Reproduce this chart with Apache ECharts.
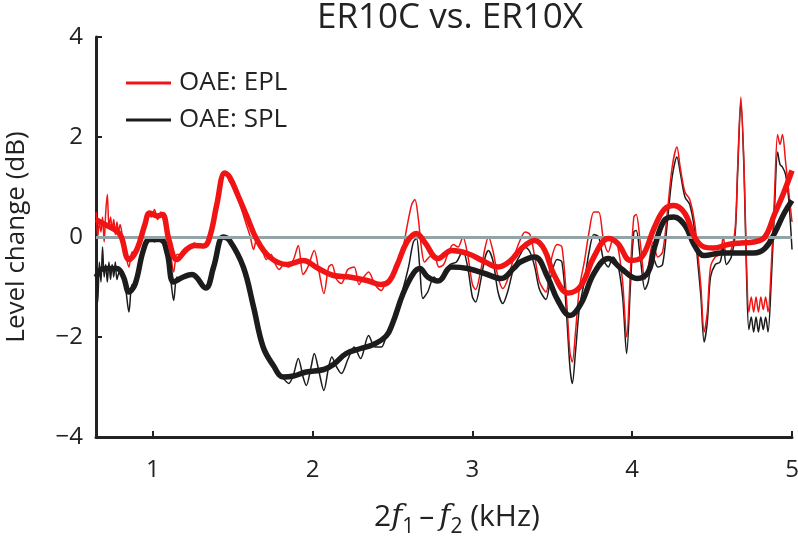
<!DOCTYPE html>
<html>
<head>
<meta charset="utf-8">
<script src="https://cdn.jsdelivr.net/npm/echarts@6/dist/echarts.min.js"></script>
<style>
html,body{margin:0;padding:0;background:#fff;}
#c{width:798px;height:539px;}
</style>
</head>
<body>
<div id="c"></div>
<script>
const titleText = 'ER10C vs. ER10X';
const legendNames = ['OAE: EPL', 'OAE: SPL'];
const xTicks = [1, 2, 3, 4, 5];
const yTicks = [-4, -2, 0, 2, 4];

// Smoothed EPL (thick red)
const eplSmoothF = [0.645,0.70,0.76,0.80,0.85,0.90,0.95,0.98,1.03,1.06,1.10,1.15,1.21,1.26,1.32,1.36,1.40,1.45,1.48,1.53,1.59,1.65,1.73,1.84,1.94,2.03,2.13,2.23,2.34,2.43,2.48,2.53,2.59,2.65,2.70,2.785,2.87,2.97,3.08,3.16,3.24,3.30,3.39,3.45,3.51,3.60,3.68,3.76,3.85,3.91,3.99,4.06,4.14,4.20,4.26,4.33,4.39,4.45,4.51,4.60,4.68,4.76,4.83,4.89,4.95,5.0];
const eplSmooth = [0.35,0.25,0.15,0.02,-0.45,-0.25,0.25,0.48,0.42,0.45,-0.05,-0.45,-0.25,-0.17,-0.18,0.05,0.65,1.28,1.2,0.85,0.4,-0.05,-0.4,-0.55,-0.47,-0.62,-0.77,-0.8,-0.87,-0.95,-0.88,-0.55,-0.1,0.07,-0.1,-0.43,-0.27,-0.33,-0.5,-0.6,-0.47,-0.25,-0.07,-0.25,-0.75,-1.12,-0.97,-0.4,-0.03,-0.13,-0.47,-0.4,0.2,0.55,0.63,0.47,0.0,-0.2,-0.22,-0.15,-0.12,-0.1,0.0,0.45,0.9,1.33];

// Smoothed SPL (thick black)
const splSmoothF = [0.645,0.69,0.775,0.816,0.85,0.89,0.94,0.98,1.05,1.09,1.13,1.19,1.245,1.33,1.38,1.44,1.48,1.566,1.63,1.69,1.754,1.816,1.88,1.96,2.07,2.13,2.21,2.30,2.38,2.46,2.50,2.566,2.63,2.67,2.72,2.785,2.87,2.97,3.077,3.18,3.26,3.30,3.39,3.47,3.535,3.61,3.68,3.76,3.85,3.93,4.03,4.10,4.14,4.20,4.26,4.33,4.39,4.45,4.56,4.66,4.76,4.83,4.89,4.95,5.0];
const splSmooth = [-0.8,-0.63,-0.63,-0.8,-1.1,-0.93,-0.27,-0.05,-0.05,-0.33,-0.9,-0.8,-0.75,-1.02,-0.6,0.0,-0.07,-0.6,-1.4,-2.2,-2.57,-2.8,-2.78,-2.7,-2.65,-2.55,-2.33,-2.23,-2.15,-1.98,-1.73,-1.13,-0.73,-0.63,-0.8,-0.88,-0.6,-0.63,-0.73,-0.83,-0.62,-0.5,-0.4,-0.8,-1.27,-1.57,-1.33,-0.73,-0.43,-0.63,-0.83,-0.7,-0.2,0.33,0.4,0.23,-0.17,-0.37,-0.32,-0.32,-0.32,-0.23,0.07,0.47,0.73];

// Raw EPL (thin red)
const eplRawF = [0.645,0.655,0.665,0.675,0.685,0.695,0.705,0.715,0.725,0.735,0.745,0.755,0.765,0.775,0.785,0.795,0.81,0.83,0.85,0.87,0.89,0.91,0.93,0.95,0.97,0.99,1.01,1.03,1.05,1.07,1.09,1.11,1.13,1.15,1.17,1.20,1.23,1.26,1.29,1.32,1.35,1.38,1.41,1.44,1.46,1.48,1.50,1.52,1.55,1.58,1.61,1.63,1.65,1.68,1.71,1.74,1.76,1.79,1.82,1.85,1.88,1.91,1.94,1.97,2.01,2.04,2.07,2.10,2.12,2.15,2.18,2.22,2.26,2.29,2.32,2.35,2.39,2.43,2.46,2.49,2.52,2.56,2.59,2.62,2.64,2.66,2.68,2.70,2.73,2.76,2.79,2.82,2.85,2.88,2.91,2.94,2.97,3.00,3.02,3.05,3.08,3.10,3.13,3.16,3.19,3.22,3.26,3.30,3.33,3.36,3.39,3.42,3.46,3.49,3.53,3.56,3.59,3.61,3.625,3.645,3.67,3.70,3.73,3.76,3.79,3.82,3.85,3.88,3.91,3.94,3.965,3.99,4.01,4.025,4.05,4.08,4.10,4.13,4.16,4.19,4.22,4.25,4.28,4.30,4.33,4.36,4.39,4.41,4.43,4.45,4.47,4.49,4.52,4.55,4.57,4.59,4.62,4.645,4.66,4.68,4.70,4.715,4.73,4.745,4.76,4.775,4.79,4.805,4.82,4.835,4.85,4.87,4.89,4.91,4.925,4.94,4.96,4.98,5.0];
const eplRaw = [0.5,0.0,0.3,0.1,0.4,-0.1,0.5,0.85,0.2,0.4,0.15,0.35,0.05,0.3,0.1,0.25,0.0,-0.35,-0.6,-0.3,-0.35,-0.1,0.1,0.3,0.5,0.4,0.55,0.35,0.5,0.3,0.05,-0.3,-0.7,-0.35,-0.35,-0.25,-0.2,-0.12,-0.2,-0.15,0.0,0.4,0.85,1.3,1.3,1.1,1.05,0.85,0.6,0.3,0.0,-0.25,-0.05,-0.2,-0.45,-0.35,-0.5,-0.65,-0.55,-0.6,-0.45,-0.17,-0.75,-0.6,-0.27,-0.7,-1.13,-0.6,-0.55,-0.85,-0.93,-0.65,-0.6,-0.95,-0.8,-0.7,-0.95,-1.07,-0.9,-0.85,-0.6,-0.3,0.2,0.65,0.75,0.4,-0.2,-0.5,-0.4,-0.35,-0.6,-0.55,-0.3,-0.15,-0.2,0.0,-0.35,-0.95,-1.05,-0.7,-0.2,0.0,-0.3,-0.8,-1.03,-0.85,-0.4,-0.05,0.1,0.05,-0.4,-0.9,-1.1,-0.5,-0.15,-0.2,-1.3,-2.3,-2.5,-1.9,-1.0,-0.5,0.1,0.5,0.5,-0.05,-0.3,-0.05,-0.2,-0.9,-2.0,-0.6,0.4,0.45,-0.1,-0.85,-0.6,-0.1,-0.4,-0.3,0.5,1.4,1.8,1.4,0.9,0.75,0.3,-0.3,-1.0,-1.9,-1.5,-0.6,-0.4,-0.35,0.0,-0.35,-0.25,0.2,1.4,2.8,1.4,-0.5,-1.5,-1.2,-1.5,-1.2,-1.5,-1.2,-1.45,-1.2,-1.5,-0.6,0.8,2.05,1.85,2.05,1.5,0.9,0.3];

// Raw SPL (thin black)
const splRawF = [0.645,0.655,0.665,0.675,0.685,0.695,0.705,0.715,0.725,0.735,0.745,0.755,0.765,0.775,0.79,0.81,0.83,0.85,0.87,0.89,0.91,0.93,0.95,0.97,0.99,1.01,1.03,1.05,1.07,1.09,1.11,1.13,1.15,1.17,1.20,1.23,1.26,1.30,1.33,1.36,1.39,1.42,1.44,1.47,1.50,1.53,1.56,1.59,1.62,1.64,1.66,1.69,1.72,1.75,1.78,1.81,1.85,1.88,1.91,1.94,1.96,1.99,2.01,2.04,2.07,2.10,2.12,2.15,2.18,2.22,2.26,2.30,2.35,2.39,2.43,2.46,2.49,2.52,2.56,2.60,2.63,2.65,2.67,2.69,2.72,2.76,2.79,2.82,2.86,2.90,2.94,2.97,3.00,3.02,3.05,3.08,3.10,3.13,3.16,3.19,3.22,3.26,3.30,3.33,3.36,3.39,3.42,3.46,3.49,3.53,3.56,3.59,3.61,3.625,3.645,3.67,3.70,3.73,3.76,3.79,3.82,3.85,3.88,3.91,3.94,3.965,3.99,4.01,4.025,4.05,4.08,4.10,4.13,4.16,4.19,4.22,4.25,4.28,4.30,4.33,4.36,4.39,4.41,4.43,4.45,4.47,4.49,4.52,4.55,4.57,4.59,4.62,4.645,4.66,4.68,4.70,4.715,4.73,4.745,4.76,4.775,4.79,4.805,4.82,4.835,4.85,4.87,4.89,4.91,4.925,4.94,4.96,4.98,5.0];
const splRaw = [-0.6,-1.3,-0.5,-0.9,-0.2,-0.8,-0.55,-0.9,-0.5,-0.85,-0.55,-0.8,-0.5,-0.85,-0.7,-0.8,-1.05,-1.5,-0.95,-1.0,-0.75,-0.4,-0.15,-0.05,0.0,-0.1,0.0,-0.1,-0.15,-0.4,-0.8,-1.27,-0.8,-0.85,-0.78,-0.75,-0.8,-0.95,-1.0,-0.75,-0.45,-0.1,0.0,-0.05,-0.2,-0.4,-0.55,-0.9,-1.3,-1.55,-1.9,-2.2,-2.45,-2.55,-2.7,-2.8,-2.93,-2.75,-2.43,-2.8,-2.97,-2.6,-2.33,-2.7,-3.07,-2.6,-2.4,-2.6,-2.73,-2.45,-2.2,-2.43,-1.97,-2.2,-2.2,-2.0,-1.85,-1.5,-1.1,-0.6,-0.1,-0.03,-0.6,-1.23,-1.1,-0.8,-0.9,-0.75,-0.55,-0.5,-0.27,-0.6,-1.2,-1.3,-0.9,-0.4,-0.27,-0.5,-1.1,-1.33,-1.1,-0.6,-0.35,-0.2,-0.3,-0.6,-1.05,-1.25,-0.8,-0.45,-0.5,-1.6,-2.6,-2.93,-2.3,-1.4,-0.9,-0.3,0.05,0.0,-0.45,-0.6,-0.4,-0.55,-1.2,-2.33,-0.9,0.1,0.13,-0.4,-1.05,-0.9,-0.4,-0.6,-0.55,0.3,1.2,1.6,1.3,0.8,0.65,0.15,-0.5,-1.2,-2.1,-1.7,-0.8,-0.55,-0.5,-0.2,-0.55,-0.4,0.1,1.3,2.7,1.3,-0.7,-1.85,-1.6,-1.9,-1.6,-1.9,-1.6,-1.85,-1.6,-1.9,-0.9,0.5,1.7,1.45,1.4,1.25,0.73,-0.25];

const zip = (xs, ys) => xs.map((x, i) => [x, ys[i]]);
const FONT = '"Open Sans", "Noto Sans", sans-serif';
const RED = '#f01414';
const BLACK = '#1c1c1c';

const chart = echarts.init(document.getElementById('c'), null, {renderer: 'canvas'});
chart.setOption({
  animation: false,
  backgroundColor: '#fff',
  title: {
    text: titleText,
    left: 445, top: -4, textAlign: 'center',
    textStyle: {fontFamily: FONT, fontSize: 35, fontWeight: 'normal', color: '#222'}
  },
  legend: {
    data: legendNames.map(n => ({name: n, icon: 'rect'})),
    orient: 'vertical',
    left: 121, top: 63,
    itemWidth: 45, itemHeight: 3, itemGap: 7,
    textStyle: {fontFamily: FONT, fontSize: 26, color: '#222', lineHeight: 30, padding: [0,0,0,3]},
    selectedMode: false
  },
  grid: {left: 96, right: 6, top: 37, bottom: 102, containLabel: false, outerBoundsMode: 'none'},
  xAxis: {
    type: 'value', min: 0.644, max: 5,
    name: '2{i|f}{sub|1}\u2009\u2013\u2009{i|f}{sub|2} (kHz)',
    nameLocation: 'middle', nameGap: 60,
    nameTextStyle: {
      fontFamily: FONT, fontSize: 30, color: '#222', padding: [0, 0, 0, 26],
      rich: {
        i: {fontFamily: '"DejaVu Serif", serif', fontStyle: 'italic', fontSize: 30, color: '#222'},
        sub: {fontFamily: FONT, fontSize: 21, color: '#222', padding: [20, 0, 0, 0]}
      }
    },
    axisLine: {onZero: false, lineStyle: {color: '#222', width: 3}},
    axisTick: {inside: true, length: 6, lineStyle: {color: '#222', width: 2}, customValues: xTicks},
    axisLabel: {fontFamily: FONT, fontSize: 24, color: '#222', margin: 21, customValues: xTicks},
    splitLine: {show: false}
  },
  yAxis: {
    type: 'value', min: -4, max: 4, interval: 2,
    name: 'Level change (dB)',
    nameLocation: 'middle', nameGap: 66,
    nameTextStyle: {fontFamily: FONT, fontSize: 26, color: '#222'},
    axisLine: {lineStyle: {color: '#222', width: 3}},
    axisTick: {inside: true, length: 6, lineStyle: {color: '#222', width: 2}},
    axisLabel: {fontFamily: FONT, fontSize: 24, color: '#222', margin: 13,
      formatter: v => (v < 0 ? '\u2212' + Math.abs(v) : String(v))},
    splitLine: {show: false}
  },
  series: [
    {
      name: 'zero', type: 'line', data: [], z: 1,
      markLine: {silent: true, symbol: 'none', label: {show: false},
        lineStyle: {color: '#93a3a6', width: 3, type: 'solid'},
        data: [{yAxis: 0}]}
    },
    {name: 'SPL raw', type: 'line', data: zip(splRawF, splRaw), showSymbol: false, smooth: 0.3,
      lineStyle: {color: BLACK, width: 1.5}, itemStyle: {color: BLACK}, z: 2},
    {name: 'EPL raw', type: 'line', data: zip(eplRawF, eplRaw), showSymbol: false, smooth: 0.3,
      lineStyle: {color: RED, width: 1.5}, itemStyle: {color: RED}, z: 3},
    {name: legendNames[1], type: 'line', data: zip(splSmoothF, splSmooth), showSymbol: false, smooth: 0.4,
      lineStyle: {color: BLACK, width: 5.5}, itemStyle: {color: BLACK}, z: 4},
    {name: legendNames[0], type: 'line', data: zip(eplSmoothF, eplSmooth), showSymbol: false, smooth: 0.4,
      lineStyle: {color: RED, width: 5.5}, itemStyle: {color: RED}, z: 5}
  ]
});
</script>
</body>
</html>
